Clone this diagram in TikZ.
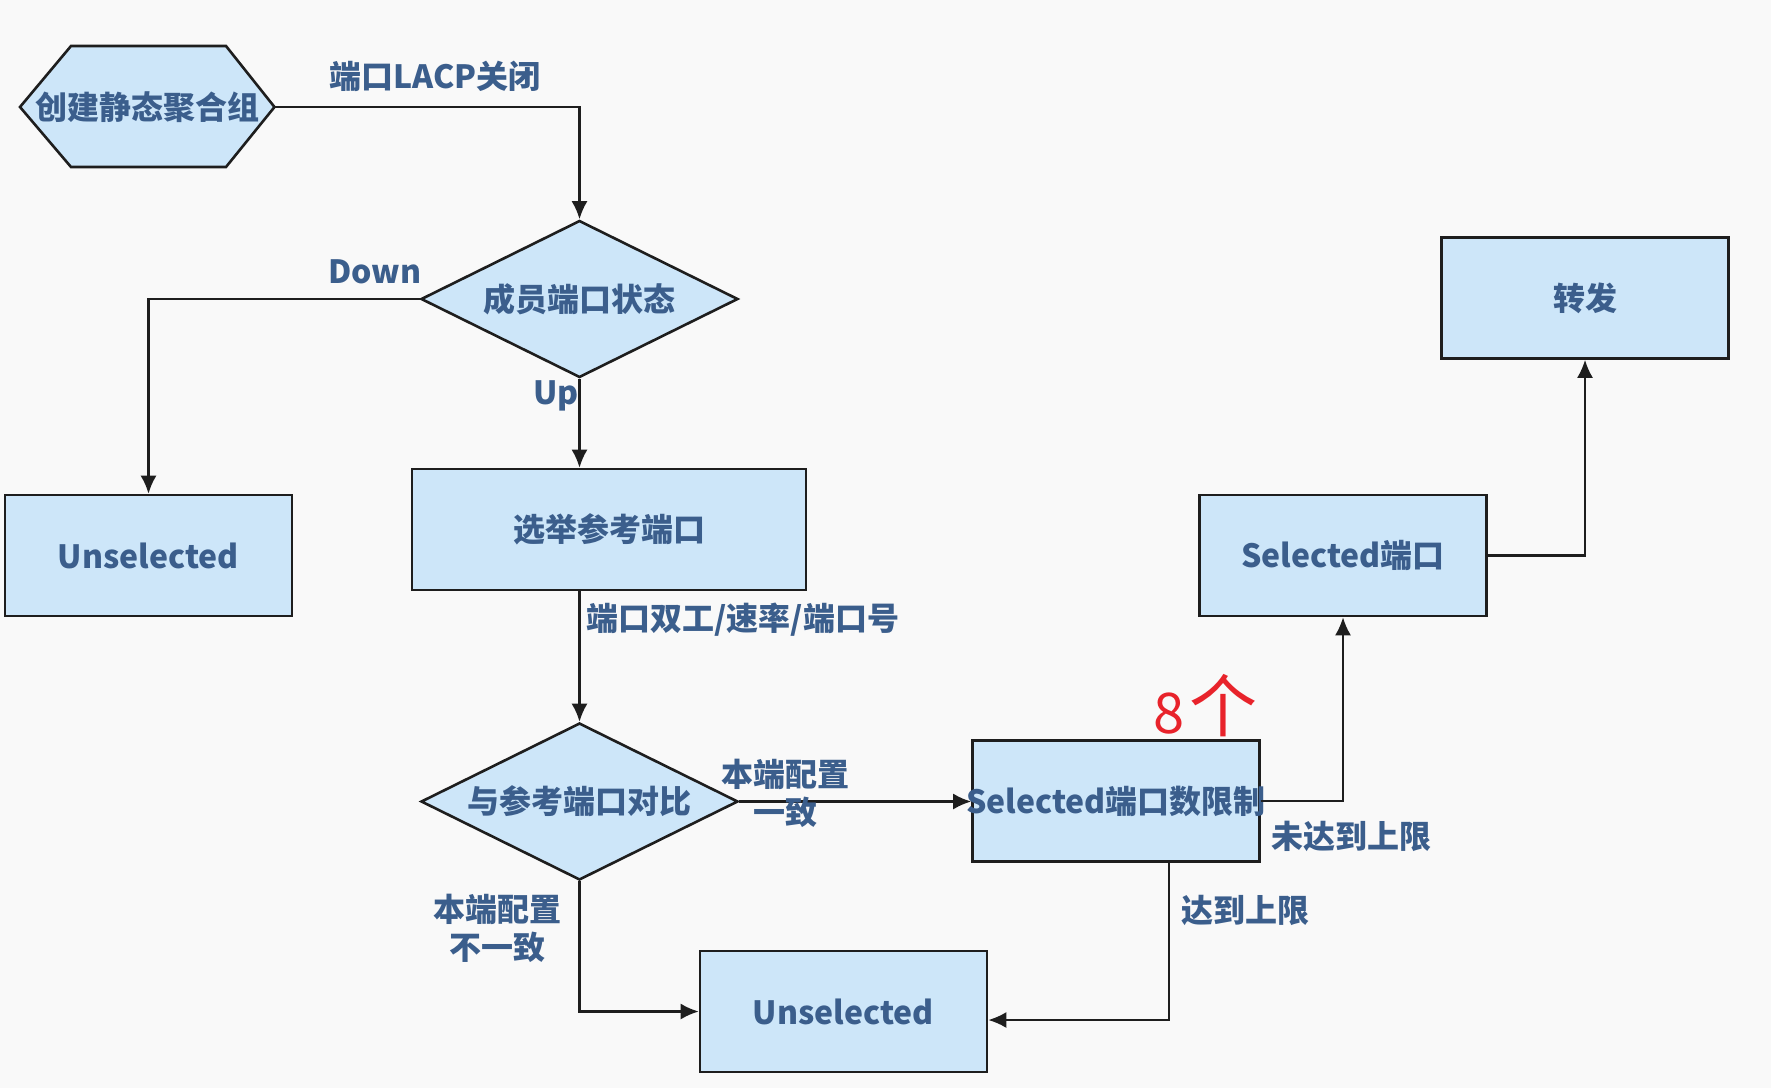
\documentclass[tikz,border=0pt]{standalone}
\usepackage{fontspec}
\setmainfont{Noto Sans CJK SC}
\usetikzlibrary{arrows.meta,shapes.geometric}
\definecolor{bg}{HTML}{F9F9F9}
\definecolor{boxfill}{HTML}{CDE6F9}
\definecolor{txt}{HTML}{3B5E8C}
\definecolor{edge}{HTML}{1E1E1E}
\definecolor{redink}{HTML}{E8232B}
\tikzset{
  base/.style={draw=edge, line width=1.3pt, fill=boxfill, text=txt, font=\fontsize{16}{18}\selectfont\bfseries, inner sep=0pt},
  box/.style={base, rectangle, minimum width=143.5pt, minimum height=60.5pt},
  bigbox/.style={base, rectangle, minimum width=197pt, minimum height=60.5pt},
  dia/.style={base, diamond, minimum width=158.5pt, minimum height=78.5pt},
  lbl/.style={text=txt, font=\fontsize{16}{18}\selectfont\bfseries, inner sep=0pt, align=center},
  conn/.style={draw=edge, line width=1.1pt, -{Latex[length=9pt,width=8pt]}},
}
\begin{document}
\begin{tikzpicture}[x=0.5pt,y=-0.5pt]
\useasboundingbox[fill=bg] (0,0) rectangle (1771,1088);
% hexagon
\draw[draw=edge, line width=1.3pt, fill=boxfill] (20,107) -- (71,46) -- (226,46) -- (274.5,107) -- (226,167) -- (71,167) -- cycle;
\node[lbl] (hex) at (147,107) {创建静态聚合组};
\coordinate (hexE) at (274.5,107);
% nodes
\node[dia] (d1) at (579.5,299) {};
\node[lbl] (d1t) at (579.5,299) {成员端口状态};
\node[bigbox] (ref) at (609,529.5) {选举参考端口};
\node[box] (u1) at (148.5,555.5) {Unselected};
\node[dia] (d2) at (579.5,801.5) {};
\node[lbl] (d2t) at (579.5,801.5) {与参考端口对比};
\node[box] (lim) at (1116,801) {};
\node[lbl] (limt) at (1116,801) {Selected端口数限制};
\node[box] (u2) at (843.5,1011.5) {Unselected};
\node[box] (sel) at (1343,555.5) {Selected端口};
\node[box] (fwd) at (1585,298) {转发};
% connectors
\draw[conn] (hexE) -| (d1.north);
\draw[conn] (d1.west) -| (u1.north);
\draw[conn] (d1.south) -- (d1.south |- ref.north);
\draw[conn] (d2.north |- ref.south) -- (d2.north);
\draw[conn] (d2.east) -- (d2.east -| lim.west);
\draw[conn] (d2.south) |- (u2.west);
\draw[conn] ([xshift=26.5pt]lim.south) |- ([yshift=-4.25pt]u2.east);
\draw[conn] (lim.east) -| (sel.south);
\draw[conn] (sel.east) -| (fwd.south);
% labels
\node[lbl] (l1) at (435,76) {端口LACP关闭};
\node[lbl] (l2) at (375,272) {Down};
\node[lbl] (l3) at (556,396) {Up};
\node[lbl, anchor=west] (l4) at (586,620) {端口双工/速率/端口号};
\node[lbl] (l5) at (785,793) {本端配置\\[1pt]一致};
\node[lbl] (l6) at (497,928) {本端配置\\[1pt]不一致};
\node[lbl] (l7) at (1245,910) {达到上限};
\node[lbl] (l8) at (1351,836) {未达到上限};
% red annotation
\node[text=redink, font=\fontsize{28}{30}\selectfont, inner sep=0pt] (r8) at (1169,714) {8};
\node[text=redink, font=\fontsize{34}{36}\selectfont, inner sep=0pt] (rge) at (1223,706) {个};
\end{tikzpicture}
\end{document}
